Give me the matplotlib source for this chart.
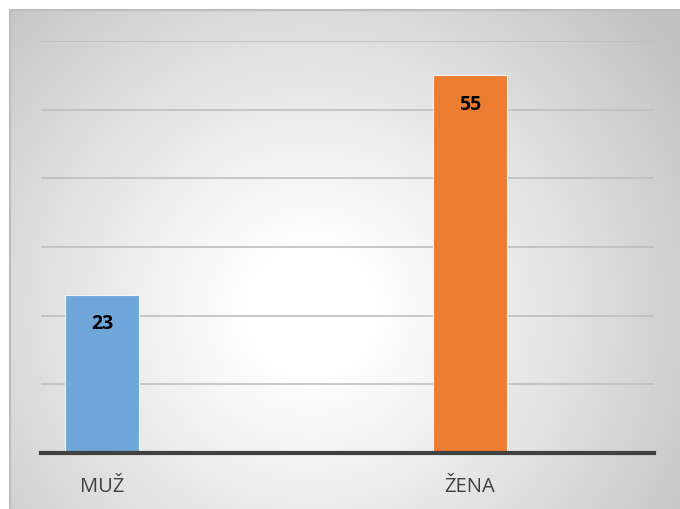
import numpy as np
import matplotlib.pyplot as plt
from matplotlib.patches import Rectangle

categories = ['MUŽ', 'ŽENA']
values = [23, 55]
colors = ['#6fa6d9', '#ed7d31']
positions = [0, 1]

W, H = 680, 509
fig = plt.figure(figsize=(W / 100, H / 100), dpi=100)
fig.patch.set_facecolor('white')

# radial gradient background of the chart area (starts at x=10, y=10)
bg = fig.add_axes([10 / W, 0, 1 - 10 / W, 1 - 10 / H])
bg.set_axis_off()
yy, xx = np.mgrid[0:H - 10, 0:W - 10]
cx, cy = 300, 300
r = np.hypot(xx - cx, yy - cy)
t = np.clip((r - 60) / 390, 0, 1)
shade = 1 - 0.24 * t ** 1.1
img = np.dstack([shade, shade, shade])
bg.imshow(img, aspect='auto', extent=[0, 1, 0, 1], origin='upper')
bg.set_xlim(0, 1)
bg.set_ylim(0, 1)
fig.add_artist(Rectangle((10 / W, -0.01), 1, 1 - 10 / H + 0.01, transform=fig.transFigure,
                         fill=False, edgecolor='#bdbdbd', linewidth=1.5))

# plot area: x 41..654, y 41..453 (pixels from top)
ax = fig.add_axes([41 / W, (H - 453) / H, (654 - 41) / W, (453 - 41) / H])
ax.patch.set_alpha(0)
bars = ax.bar(positions, values, width=0.201, color=colors, edgecolor='#f4f4f4',
              linewidth=0.8, zorder=3)
ax.set_xlim(-0.1658, 1.5)
ax.set_ylim(0, 60)
ax.set_yticks(range(10, 61, 10))
ax.yaxis.grid(True, color='#bebebe', linewidth=1.2, zorder=0)
ax.tick_params(axis='y', left=False, labelleft=False)
ax.set_xticks(positions)
ax.set_xticklabels(categories, fontsize=14.5, color='#404040', family=['Open Sans', 'DejaVu Sans'])
ax.tick_params(axis='x', length=0, pad=17)
for s in ['top', 'right', 'left']:
    ax.spines[s].set_visible(False)
ax.spines['bottom'].set_color('#404040')
ax.spines['bottom'].set_linewidth(3)
ax.spines['bottom'].set_zorder(4)

for b, v in zip(bars, values):
    ax.annotate(str(v), (b.get_x() + b.get_width() / 2, v), xytext=(0, -21),
                textcoords='offset points', ha='center', va='center',
                fontsize=14, fontweight='bold', color='black',
                family=['Open Sans', 'DejaVu Sans'], zorder=5)

fig.savefig('out.png', dpi=100)
